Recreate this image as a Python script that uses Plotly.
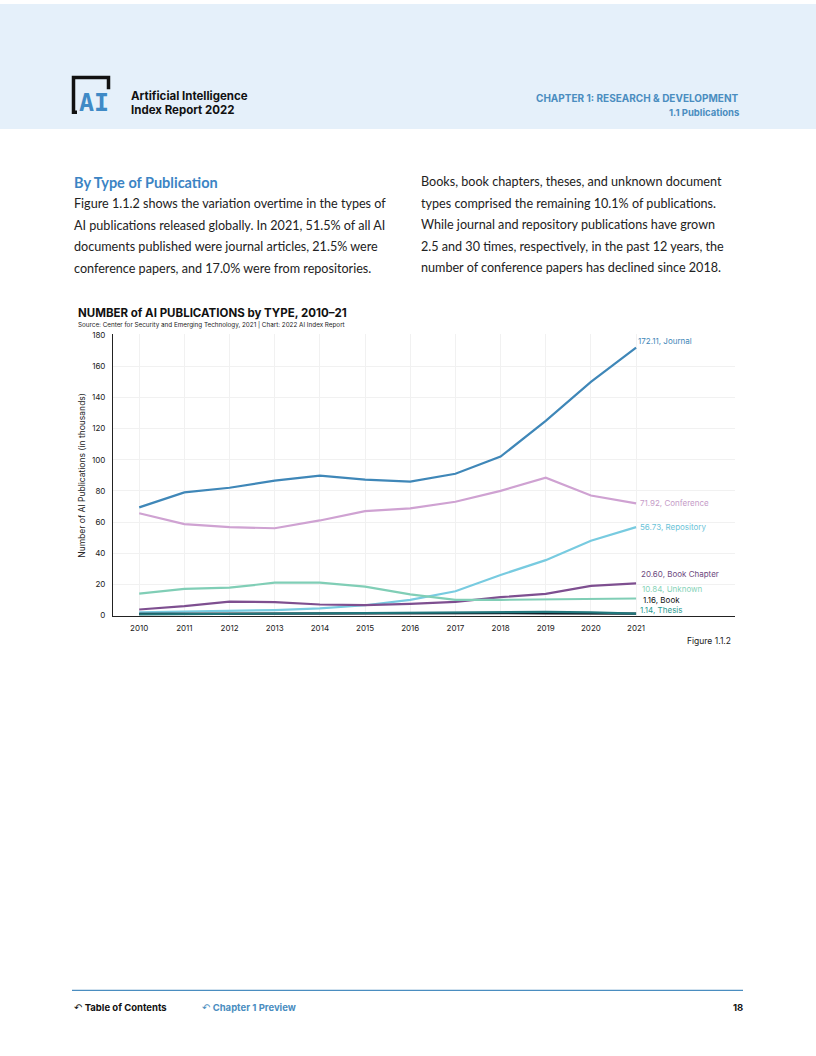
import plotly.graph_objects as go

years = list(range(2010, 2022))
journal = [69.4, 79.0, 82.0, 86.6, 89.8, 87.3, 86.0, 91.0, 102.0, 125.0, 150.0, 172.11]
conference = [65.6, 58.6, 56.7, 56.0, 61.0, 67.0, 68.8, 73.0, 80.0, 88.5, 77.0, 71.92]
repository = [1.9, 2.4, 2.9, 3.4, 4.5, 6.5, 10.0, 15.5, 26.0, 35.5, 48.0, 56.73]
book_chapter = [3.8, 5.9, 8.9, 8.5, 7.0, 6.6, 7.4, 8.7, 11.7, 13.8, 19.0, 20.60]
unknown = [14.0, 17.0, 17.8, 21.0, 21.0, 18.5, 13.5, 10.0, 10.0, 10.2, 10.8, 10.84]
book = [1.0, 1.1, 1.2, 1.3, 1.4, 1.5, 1.5, 1.4, 1.4, 1.3, 1.2, 1.16]
thesis = [0.6, 0.8, 1.0, 1.2, 1.5, 1.7, 1.9, 2.0, 2.1, 2.2, 1.9, 1.14]

series = [
    ("Journal", journal, "#3f87b8", "#3f87b8"),
    ("Conference", conference, "#cfa2d2", "#c59bc8"),
    ("Repository", repository, "#78cbe0", "#6cc3d8"),
    ("Book Chapter", book_chapter, "#7e4f90", "#6e4a80"),
    ("Unknown", unknown, "#80ceb6", "#86d3b8"),
    ("Book", book, "#111a24", "#111111"),
    ("Thesis", thesis, "#22777c", "#2a9a90"),
]
label_shift = {"Journal": (0, 7), "Conference": (2, 0), "Repository": (2, 0),
               "Book Chapter": (3, 9), "Unknown": (4, 10), "Book": (5, 14), "Thesis": (2, 4)}

yticks = [0, 20, 40, 60, 80, 100, 120, 140, 160, 180]

W, H = 816, 1056
def px(x): return x / W
def py(y): return 1 - y / H

fig = go.Figure()
for name, vals, col, lcol in series:
    fig.add_trace(go.Scatter(x=years, y=vals, mode="lines", name=name,
                             line=dict(color=col, width=2.2), showlegend=False))

annotations = []
for name, vals, col, lcol in series:
    dx, dy = label_shift[name]
    annotations.append(dict(x=years[-1], y=vals[-1], xref="x", yref="y",
                            text=f"{vals[-1]:.2f}, {name}", showarrow=False,
                            xanchor="left", yanchor="middle", xshift=dx, yshift=dy,
                            font=dict(family="Inter", size=8, color=lcol)))

def txt(x, y, s, size, color="#222222", family="Inter", anchor="left", bold=False):
    if bold:
        s = f"<b>{s}</b>"
    annotations.append(dict(x=px(x), y=py(y), xref="paper", yref="paper", text=s,
                            showarrow=False, xanchor=anchor, yanchor="middle",
                            font=dict(family=family, size=size, color=color)))

# Header
txt(129, 93, "Artificial Intelligence", 11.5, "#111111", bold=True)
txt(129, 107, "Index Report 2022", 11.5, "#111111", bold=True)
txt(741, 95, "CHAPTER 1: RESEARCH &amp; DEVELOPMENT", 10, "#4a8dc0", anchor="right", bold=True)
txt(741, 109, "1.1 Publications", 9.5, "#4a8dc0", anchor="right", bold=True)
txt(77, 99, "AI", 25, "#3f8ac6", family="DejaVu Sans Mono", bold=True)

# Body text
body_font = "Lato"
txt(72, 180, "By Type of Publication", 14.5, "#3b84c4", family=body_font, bold=True)
left_lines = [
    "Figure 1.1.2 shows the variation overtime in the types of",
    "AI publications released globally. In 2021, 51.5% of all AI",
    "documents published were journal articles, 21.5% were",
    "conference papers, and 17.0% were from repositories.",
]
for i, s in enumerate(left_lines):
    txt(72, 201 + i * 21.7, s, 12.6, "#222222", family=body_font)
right_lines = [
    "Books, book chapters, theses, and unknown document",
    "types comprised the remaining 10.1% of publications.",
    "While journal and repository publications have grown",
    "2.5 and 30 times, respectively, in the past 12 years, the",
    "number of conference papers has declined since 2018.",
]
for i, s in enumerate(right_lines):
    txt(419, 179 + i * 21.7, s, 12.6, "#222222", family=body_font)

# Chart title
txt(76, 311, "NUMBER of AI PUBLICATIONS by TYPE, 2010\u201321", 11.5, "#111111", bold=True)
txt(76, 323, "Source: Center for Security and Emerging Technology, 2021 | Chart: 2022 AI Index Report", 6.3, "#222222")
txt(733, 642, "Figure 1.1.2", 8.5, "#222222", anchor="right")

# Footer
txt(72, 1011, "\u21b6 <b>Table of Contents</b>", 9.5, "#111111")
txt(200, 1011, "\u21b6 <b>Chapter 1 Preview</b>", 9.5, "#4a8dc0")
txt(745, 1011, "18", 9.5, "#111111", anchor="right", bold=True)

shapes = [
    dict(type="rect", xref="paper", yref="paper", x0=0, x1=1, y0=py(126), y1=1,
         fillcolor="#e5f0fa", line=dict(width=0), layer="below"),
    dict(type="line", xref="paper", yref="paper", x0=px(72), x1=px(743), y0=py(994), y1=py(994),
         line=dict(color="#4a8dc0", width=1.2)),
    # logo frame
    dict(type="path", xref="paper", yref="paper",
         path=(f"M {px(77)} {py(109)} L {px(73.5)} {py(109)} L {px(73.5)} {py(74)} "
               f"L {px(108.5)} {py(74)} L {px(108.5)} {py(86)}"),
         line=dict(color="#111111", width=3.5)),
]

fig.update_layout(
    width=W, height=H, margin=dict(l=0, r=0, t=0, b=0),
    paper_bgcolor="white", plot_bgcolor="white",
    annotations=annotations, shapes=shapes,
    xaxis=dict(domain=[px(113), px(735)], range=[2009.42, 2023.19],
               tickvals=years, ticktext=[str(y) for y in years],
               showline=True, linecolor="#222222", linewidth=1,
               showgrid=True, gridcolor="#f1f1f1", zeroline=False,
               tickfont=dict(family="Inter", size=8, color="#222222"),
               ticks="", ticklabelstandoff=4),
    yaxis=dict(domain=[py(617), py(333)], range=[-0.6, 180.5],
               tickvals=yticks, showline=True, linecolor="#222222", linewidth=1,
               showgrid=True, gridcolor="#f1f1f1", zeroline=False,
               tickfont=dict(family="Inter", size=8, color="#222222"),
               ticks="", ticklabelstandoff=5,
               title=dict(text="Number of AI Publications (in thousands)",
                          font=dict(family="Inter", size=8.5, color="#222222"), standoff=4)),
)

post = ("document.documentElement.style.margin='0px';"
        "document.body.style.margin='0px';document.body.style.overflow='hidden';"
        "var d=document.getElementById('{plot_id}');"
        "d.style.position='fixed';d.style.top='0px';d.style.left='0px';")
fig.write_html("out.html", config={"displayModeBar": False}, post_script=post)
